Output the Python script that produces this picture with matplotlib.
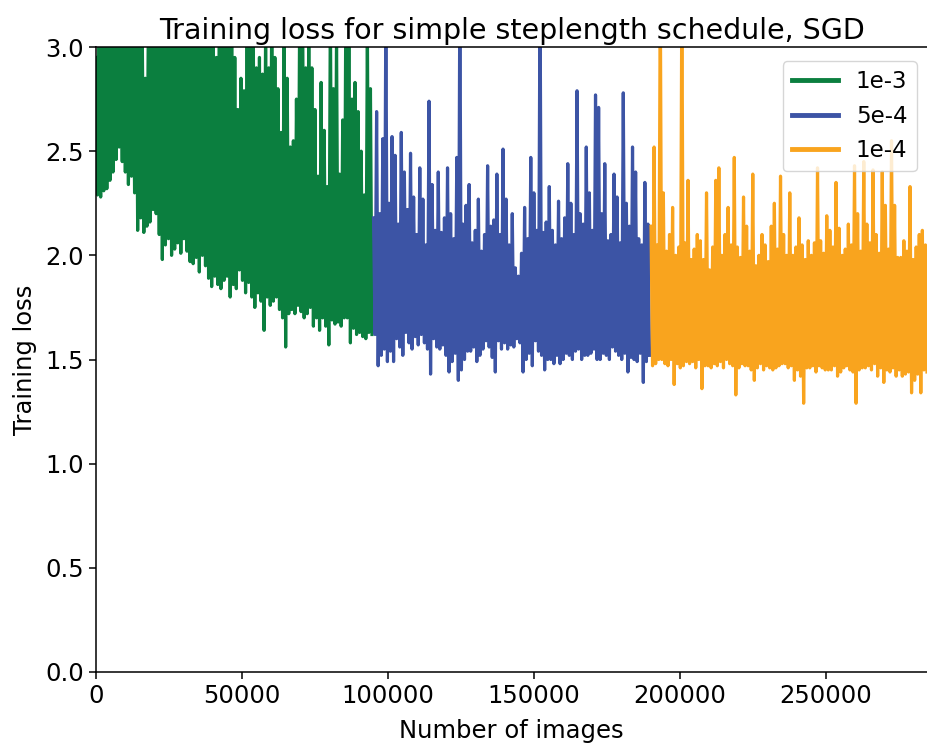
import matplotlib
matplotlib.use("Agg")
import matplotlib.pyplot as plt
import numpy as np

# images seen between two logged loss values
IMAGES_PER_POINT = 528
X_MAX = 284600

LABELS = ["1e-3", "5e-4", "1e-4"]
COLORS = ["#0b7f3f", "#3c54a5", "#f9a41e"]

loss_1e3 = [
    2.95, 2.29, 3.20, 2.28, 3.05, 2.31, 3.10, 2.32, 3.30, 2.36, 3.15, 2.40,
    3.05, 2.46, 3.25, 2.52, 3.10, 2.45, 3.40, 2.40, 3.15, 2.34, 3.05, 2.38,
    3.20, 2.30, 3.35, 2.12, 3.10, 2.18, 3.05, 2.11, 2.85, 2.14, 3.20, 2.16,
    3.30, 2.22, 3.10, 2.20, 3.00, 2.10, 3.20, 1.98, 3.05, 2.05, 3.15, 2.08,
    3.40, 2.00, 3.15, 2.03, 3.05, 2.06, 3.25, 2.01, 3.00, 2.08, 3.10, 2.02,
    3.30, 1.97, 3.10, 1.96, 3.20, 1.99, 3.35, 1.92, 3.05, 2.00, 3.10, 1.95,
    3.20, 1.89, 3.40, 1.85, 3.05, 1.90, 2.95, 1.86, 3.25, 1.84, 3.10, 1.88,
    3.10, 1.90, 3.15, 1.80, 3.05, 1.86, 2.95, 1.84, 2.70, 1.93, 2.85, 1.88,
    2.79, 1.82, 3.20, 1.87, 3.00, 1.80, 3.05, 1.75, 2.90, 1.82, 2.95, 1.78,
    2.87, 1.64, 3.10, 1.80, 2.90, 1.76, 3.25, 1.78, 2.95, 1.80, 2.80, 1.74,
    2.59, 1.70, 3.15, 1.56, 2.85, 1.72, 2.52, 1.74, 2.55, 1.72, 2.75, 1.76,
    3.05, 1.73, 3.20, 1.70, 2.90, 1.72, 3.10, 1.75, 2.90, 1.66, 2.70, 1.70,
    2.38, 1.64, 2.83, 1.70, 2.60, 1.66, 2.33, 1.57, 3.20, 1.69, 2.80, 1.67,
    3.05, 1.68, 2.39, 1.66, 2.65, 1.70, 3.15, 1.70, 3.05, 1.58, 2.75, 1.65,
    2.83, 1.62, 2.69, 1.63, 2.50, 1.61, 2.29, 1.60, 3.10, 1.63, 2.80, 1.62,
]
loss_5e4 = [
    2.18, 1.62, 2.69, 1.47, 2.20, 1.52, 2.56, 1.55, 3.20, 1.49, 2.25, 1.54,
    2.57, 1.49, 2.48, 1.60, 2.15, 1.56, 2.59, 1.52, 2.40, 1.63, 2.22, 1.58,
    2.49, 1.55, 2.28, 1.61, 2.10, 1.57, 2.42, 1.62, 2.27, 1.58, 2.05, 1.55,
    2.74, 1.43, 2.34, 1.60, 2.12, 1.56, 2.40, 1.55, 2.11, 1.57, 2.18, 1.52,
    2.42, 1.44, 2.20, 1.49, 2.08, 1.53, 2.47, 1.40, 3.30, 1.45, 2.15, 1.50,
    2.24, 1.54, 2.34, 1.54, 2.06, 1.56, 2.12, 1.49, 2.27, 1.52, 2.02, 1.55,
    2.10, 1.59, 2.43, 1.56, 2.14, 1.51, 2.17, 1.44, 2.39, 1.59, 2.10, 1.55,
    2.51, 1.58, 2.27, 1.55, 2.05, 1.57, 2.20, 1.56, 1.94, 1.60, 1.90, 1.58,
    2.01, 1.44, 2.23, 1.50, 2.08, 1.53, 2.47, 1.47, 2.30, 1.59, 2.12, 1.54,
    3.30, 1.52, 2.11, 1.45, 2.16, 1.50, 2.33, 1.50, 2.12, 1.48, 2.05, 1.52,
    2.26, 1.48, 2.08, 1.50, 2.18, 1.53, 2.44, 1.52, 2.25, 1.50, 2.10, 1.54,
    2.79, 1.55, 2.20, 1.50, 2.15, 1.52, 2.52, 1.52, 2.30, 1.53, 2.12, 1.55,
    2.77, 1.50, 2.71, 1.50, 2.20, 1.53, 2.44, 1.52, 2.07, 1.50, 2.10, 1.56,
    2.39, 1.54, 2.28, 1.52, 2.06, 1.50, 2.78, 1.53, 2.25, 1.44, 2.14, 1.51,
    2.52, 1.50, 2.40, 1.49, 2.08, 1.53, 2.05, 1.39, 2.35, 1.49, 2.15, 1.52,
]
loss_1e4 = [
    2.14, 1.47, 2.52, 1.48, 2.05, 1.50, 3.30, 1.50, 2.30, 1.48, 2.02, 1.47,
    2.10, 1.50, 2.23, 1.38, 2.00, 1.48, 2.04, 1.46, 3.30, 1.47, 2.06, 1.49,
    2.36, 1.48, 1.98, 1.49, 2.03, 1.46, 2.10, 1.50, 2.07, 1.36, 1.98, 1.47,
    2.30, 1.47, 1.93, 1.46, 2.04, 1.48, 2.36, 1.47, 2.42, 1.49, 2.00, 1.46,
    2.10, 1.50, 2.23, 1.48, 2.05, 1.47, 2.47, 1.33, 2.04, 1.46, 1.99, 1.48,
    2.28, 1.47, 2.14, 1.47, 2.02, 1.45, 2.39, 1.40, 1.95, 1.46, 2.00, 1.48,
    2.10, 1.45, 2.05, 1.47, 1.97, 1.46, 2.14, 1.45, 2.25, 1.46, 2.03, 1.47,
    2.38, 1.48, 2.10, 1.48, 2.00, 1.46, 2.30, 1.47, 2.00, 1.40, 2.04, 1.45,
    2.18, 1.42, 2.05, 1.29, 1.98, 1.46, 2.07, 1.46, 2.00, 1.47, 2.06, 1.44,
    2.42, 1.47, 2.07, 1.46, 2.01, 1.45, 2.19, 1.45, 2.12, 1.45, 2.04, 1.47,
    2.35, 1.42, 2.13, 1.44, 2.00, 1.46, 2.03, 1.47, 2.15, 1.45, 2.05, 1.44,
    2.43, 1.29, 2.20, 1.45, 2.02, 1.46, 2.45, 1.46, 2.15, 1.47, 2.06, 1.45,
    2.41, 1.48, 2.10, 1.42, 2.01, 1.46, 2.40, 1.39, 2.24, 1.45, 2.03, 1.44,
    2.55, 1.46, 2.24, 1.42, 1.99, 1.45, 1.99, 1.42, 2.07, 1.43, 2.02, 1.44,
    2.33, 1.34, 1.98, 1.40, 2.04, 1.43, 2.10, 1.34, 2.12, 1.45, 2.05, 1.44,
]


def main():
    plt.rcParams["font.family"] = "DejaVu Sans"

    fig = plt.figure(figsize=(9.27, 7.43), dpi=100)
    ax = fig.add_axes([0.1036, 0.0956, 0.8964, 0.8411])

    start = 0
    for loss, label, color in zip([loss_1e3, loss_5e4, loss_1e4], LABELS, COLORS):
        x = start + IMAGES_PER_POINT * np.arange(len(loss))
        ax.plot(x, loss, color=color, linewidth=2.3, label=label)
        start = x[-1] + IMAGES_PER_POINT

    ax.set_xlim(0, X_MAX)
    ax.set_ylim(0, 3.0)
    ax.set_yticks(np.arange(0, 3.01, 0.5))
    ax.set_xticks([0, 50000, 100000, 150000, 200000, 250000])
    ax.tick_params(labelsize=17.5, width=1.1, length=5)
    for side in ["left", "bottom", "top"]:
        ax.spines[side].set_linewidth(1.1)
    ax.spines["right"].set_visible(False)

    ax.set_xlabel("Number of images", fontsize=17.5, labelpad=8)
    ax.set_ylabel("Training loss", fontsize=17.5, labelpad=6)
    ax.set_title("Training loss for simple steplength schedule, SGD", fontsize=20.5)

    leg = ax.legend(loc="upper right", fontsize=16.5, handlelength=2.0,
                    borderaxespad=0.2, bbox_to_anchor=(0.993, 0.985))
    for line in leg.get_lines():
        line.set_linewidth(3.5)

    fig.savefig("out.png", dpi=100)


if __name__ == "__main__":
    main()
